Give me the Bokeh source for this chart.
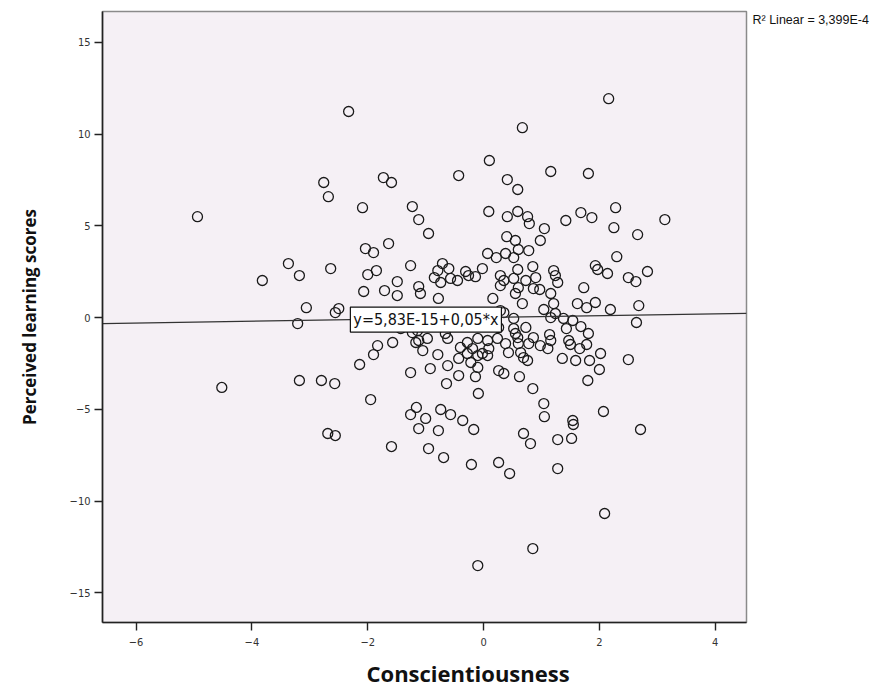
from bokeh.plotting import figure
from bokeh.models import Range1d, FixedTicker, Label, ColumnDataSource, LinearAxis, Title
from bokeh.embed import file_html
from bokeh.resources import INLINE

# Conscientiousness (x) and Perceived learning scores (y)
cons = [-2.33, 2.16, 0.67, -2.76, -2.68, -1.73, -1.59, -2.09, -1.23, -4.94, -1.12, 0.10, -0.43, 1.16, 1.81,
        0.41, 0.59, 0.09, 0.41, 0.59, 0.76, 0.79, 1.42, 1.68, 1.87, 2.28, 3.13, 2.25, 2.66, 1.05,
        0.98, -0.95, -2.04, -1.90, -1.64, -2.64, -3.82, -3.37, -3.18, -2.00, -1.85, -1.26, -1.49, -2.07, -1.71,
        -1.49, -1.12, -1.09, -3.06, -2.56, -2.50, -3.21, 0.07, 0.22, 0.38, 0.40, -0.79, -0.71, -0.60, -0.85,
        -0.74, -0.57, -0.45, -0.31, -0.26, -0.14, -0.02, 0.29, 0.35, 0.29, 0.16, -0.78, 0.55, 0.60, 0.78,
        0.52, 0.85, 0.59, 0.52, 0.73, 0.90, 1.21, 1.24, 1.28, 0.60, 0.86, 0.55, 0.97, 1.16, 0.67,
        1.21, 1.73, 1.93, 1.97, 2.14, 2.30, 2.50, 2.63, 2.83, 1.62, 1.78, 1.93, 2.19, 2.68, 1.04,
        0.29, -1.26, -1.57, -1.83, -1.90, -2.14, -1.17, -2.80, -3.18, -2.57, -4.52, -1.95, -1.26, -1.16, -1.12,
        -2.69, -2.56, -1.59, -1.14, -0.97, -1.05, -0.79, -0.66, -0.62, -0.92, -0.43, -0.28, -0.10, 0.07, 0.24,
        -0.28, -0.19, -0.10, -0.02, 0.07, -0.22, -0.10, -0.43, -0.14, -0.64, -0.09, 0.26, 0.35, 0.38, -0.74,
        -0.57, -0.36, -0.17, -0.78, -0.95, -0.69, -0.21, 0.26, 0.45, -1.00, 0.35, 0.52, 1.16, 1.24, 1.38,
        1.54, 2.64, 0.52, 0.73, 1.43, 1.68, 1.81, 1.14, 0.86, 0.59, 0.78, 0.98, 1.11, 1.47, 1.50,
        1.66, 1.78, 0.43, 0.64, 0.69, 0.76, 1.36, 1.59, 1.83, 2.02, 2.00, 2.50, 0.62, 0.85, 1.80,
        1.04, 1.05, 1.54, 1.55, 2.07, 2.71, 0.69, 0.81, 1.28, 1.52, 1.28, 2.09, 0.85, -0.10, -1.43,
        -1.23, -1.12, -0.62, -0.40, 0.09, 0.26, 0.55, 0.60, 1.16]
pls = [11.23, 11.93, 10.35, 7.36, 6.59, 7.63, 7.36, 5.99, 6.05, 5.50, 5.34, 8.56, 7.74, 7.96, 7.85,
       7.52, 6.98, 5.78, 5.50, 5.78, 5.50, 5.12, 5.29, 5.72, 5.45, 5.99, 5.34, 4.90, 4.52, 4.85,
       4.20, 4.58, 3.76, 3.54, 4.03, 2.67, 2.02, 2.94, 2.29, 2.34, 2.56, 2.83, 1.96, 1.42, 1.47,
       1.20, 1.69, 1.31, 0.54, 0.27, 0.49, -0.33, 3.49, 3.27, 3.49, 4.41, 2.56, 2.94, 2.67, 2.18,
       1.91, 2.13, 2.02, 2.51, 2.29, 2.23, 2.67, 2.29, 2.02, 1.74, 1.04, 1.04, 4.20, 3.71, 3.65,
       3.27, 2.78, 2.62, 2.13, 2.02, 2.18, 2.56, 2.29, 1.91, 1.63, 1.58, 1.31, 1.53, 1.31, 0.76,
       0.76, 1.63, 2.83, 2.62, 2.40, 3.32, 2.18, 1.96, 2.51, 0.76, 0.54, 0.82, 0.44, 0.65, 0.44,
       0.38, -3.00, -1.36, -1.53, -2.02, -2.56, -1.36, -3.43, -3.43, -3.60, -3.81, -4.47, -5.29, -4.90, -6.05,
       -6.32, -6.43, -7.03, -0.71, -1.14, -1.80, -2.02, -0.87, -2.62, -2.78, -2.23, -1.36, -1.14, -1.25, -1.14,
       -1.96, -1.69, -2.07, -1.96, -2.07, -2.45, -2.72, -3.16, -3.22, -3.60, -4.14, -2.89, -3.05, -1.42, -5.01,
       -5.29, -5.61, -6.10, -6.16, -7.14, -7.63, -8.01, -7.90, -8.50, -5.50, 0.27, -0.05, 0.00, 0.22, -0.05,
       -0.16, -0.27, -0.60, -0.54, -0.60, -0.49, -0.87, -0.93, -1.09, -1.09, -1.42, -1.53, -1.69, -1.25, -1.47,
       -1.69, -1.47, -1.91, -1.91, -2.18, -2.34, -2.23, -2.34, -2.34, -1.96, -2.83, -2.29, -3.22, -3.87, -3.43,
       -4.69, -5.40, -5.61, -5.83, -5.12, -6.10, -6.32, -6.87, -6.65, -6.59, -8.23, -10.68, -12.59, -13.52, -0.60,
       -0.82, -1.25, -1.14, -1.63, -1.69, -0.54, -0.87, -1.42, -1.25]

x_ticks = [-6, -4, -2, 0, 2, 4]
y_ticks = [-15, -10, -5, 0, 5, 10, 15]

fit_intercept = 5.83e-15
fit_slope = 0.05
fit_text = "y=5,83E-15+0,05*x"
r2_text = "R\u00b2 Linear = 3,399E-4"
r2_y = 16.24

x_lo, x_hi = -6.58, 4.54
y_lo, y_hi = -16.62, 16.68

narrow = "'Liberation Sans Narrow', 'DejaVu Sans Condensed', 'Arial Narrow', sans-serif"

p = figure(width=888, height=696, output_backend="svg", toolbar_location=None,
           x_range=Range1d(x_lo, x_hi), y_range=Range1d(y_lo, y_hi),
           min_border_left=102, min_border_right=142, min_border_top=11, min_border_bottom=74)
p.background_fill_color = "#F5F0F5"
p.border_fill_color = "white"
p.outline_line_color = "#8a8a8a"
p.outline_line_width = 1.5
p.grid.visible = False

for ax in (p.xaxis[0], p.yaxis[0]):
    ax.axis_line_color = "#222222"
    ax.axis_line_width = 1.6
    ax.major_tick_line_color = "#222222"
    ax.major_tick_line_width = 1.4
    ax.major_tick_out = 8
    ax.major_tick_in = 0
    ax.minor_tick_line_color = None
    ax.major_label_text_font = narrow
    ax.major_label_text_font_size = "11px"
    ax.major_label_text_color = "#333333"
    ax.major_label_standoff = 4
p.xaxis.major_label_standoff = 7

p.xaxis.ticker = FixedTicker(ticks=x_ticks)
p.yaxis.ticker = FixedTicker(ticks=y_ticks)
p.yaxis.axis_label = "Perceived learning scores"
p.yaxis.axis_label_standoff = 26
p.yaxis.axis_label_text_font = "Open Sans"
p.yaxis.axis_label_text_font_style = "bold"
p.yaxis.axis_label_text_font_size = "17px"
p.yaxis.axis_label_text_color = "#111111"

xt = Title(text="Conscientiousness", align="left", offset=264, standoff=15,
           vertical_align="bottom",
           text_font="Open Sans", text_font_style="bold", text_font_size="22px",
           text_color="#111111")
p.add_layout(xt, "below")

r_ax = LinearAxis(ticker=FixedTicker(ticks=[r2_y]), major_label_overrides={r2_y: r2_text})
r_ax.axis_line_color = None
r_ax.major_tick_line_color = None
r_ax.minor_tick_line_color = None
r_ax.major_label_standoff = 0
r_ax.major_label_text_font = "Liberation Sans"
r_ax.major_label_text_font_size = "12.5px"
r_ax.major_label_text_color = "#111111"
p.add_layout(r_ax, "right")

src = ColumnDataSource(dict(x=cons, y=pls))
p.scatter("x", "y", source=src, size=10, fill_color=None, line_color="#1a1a1a", line_width=1.3)

fx = [x_lo, x_hi]
fy = [fit_intercept + fit_slope * v for v in fx]
p.line(fx, fy, line_color="#333333", line_width=1.2)

lab = Label(x=-2.30, y=-0.11, text=fit_text, text_baseline="middle", text_align="left",
            text_font=narrow, text_font_size="16px", text_color="#111111",
            background_fill_color="white", border_line_color="#111111", border_line_width=1.2,
            padding=3)
p.add_layout(lab)

open("out.html", "w").write(file_html(p, INLINE))
